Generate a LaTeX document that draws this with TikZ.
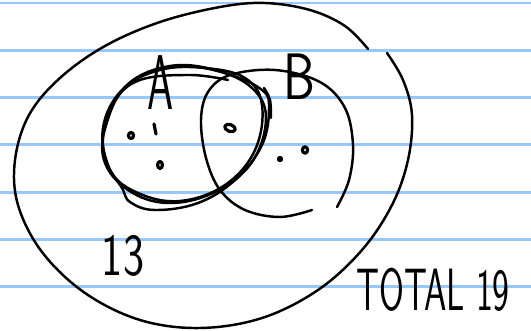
\documentclass[tikz,border=0pt]{standalone}
\usepackage{fontspec}
\usetikzlibrary{calc}
\definecolor{ruleblue}{RGB}{150,200,252}
\tikzset{
  pen/.style={black, line width=1.4pt, line cap=round, line join=round},
  handtext/.style={font=\sffamily\fontsize{34}{38}\selectfont, inner sep=0pt},
  dotmark/.style={pen, line width=1.8pt}
}

\begin{document}
\begin{tikzpicture}[x=0.02cm, y=-0.02cm]
  \useasboundingbox (0,0) rectangle (531,331);
  \fill[white] (0,0) rectangle (531,331);

  \foreach \ly in {3,50.3,97.6,144.9,192.2,239.5,286.8}
    \draw[ruleblue, line width=1.6pt] (0,\ly) -- (531,\ly);

  \draw[pen] plot[smooth, tension=0.6] coordinates {(387,53) (403,80) (412,115) (408,160) (392,205) (362,250) (318,290) (262,318) (200,328) (140,320) (85,293) (42,252) (18,205) (15,160) (29,115) (60,78) (105,46) (160,22) (220,7) (265,3) (310,10) (345,26) (368,49)};

  \draw[pen] plot[smooth cycle, tension=0.65] coordinates {(103,128) (122,90) (160,70) (205,68) (245,78) (262,105) (255,150) (225,185) (180,201) (138,193) (110,170)};
  \draw[pen] plot[smooth cycle, tension=0.65] coordinates {(107,122) (128,84) (170,66) (215,70) (252,88) (266,118) (252,162) (215,192) (168,203) (128,190) (104,160)};
  \draw[pen] plot[smooth, tension=0.65] coordinates {(148,72) (185,66) (228,74) (262,90) (269,108) (262,145) (235,180) (198,203) (155,210) (130,202) (122,188) (108,165) (103,135) (114,102) (140,80) (190,75) (228,80)};
  \draw[pen] plot[smooth, tension=0.6] coordinates {(264,88) (270,100) (271,118)};

  \draw[pen] plot[smooth, tension=0.6] coordinates {(312,210) (280,217) (245,210) (220,190) (206,158) (201,120) (208,92) (230,75) (275,70) (320,82) (345,108) (353,145) (349,180) (337,207)};

  \draw[dotmark] (131,135.5) ellipse (2.6 and 3);
  \draw[dotmark] (154,124) -- (156,134);
  \draw[dotmark] (160,165) ellipse (2.4 and 3.5);
  \draw[dotmark, rotate around={-20:(230,128)}] (230,128) ellipse (5.5 and 3.4);
  \draw[dotmark] (280,159) ellipse (1.8 and 1.8);
  \draw[dotmark] (305,150) ellipse (2.6 and 3.2);

  \node[handtext, xscale=0.7, yscale=1.3] (labelA) at (161,83) {A};
  \node[handtext, xscale=0.85, yscale=1.1] (labelB) at (299,77) {B};
  \node[handtext, xscale=0.75] (count13) at (123,256) {13};
  \node[handtext, xscale=0.6] (total) at (433,290) {TOTAL 19};
\end{tikzpicture}
\end{document}
